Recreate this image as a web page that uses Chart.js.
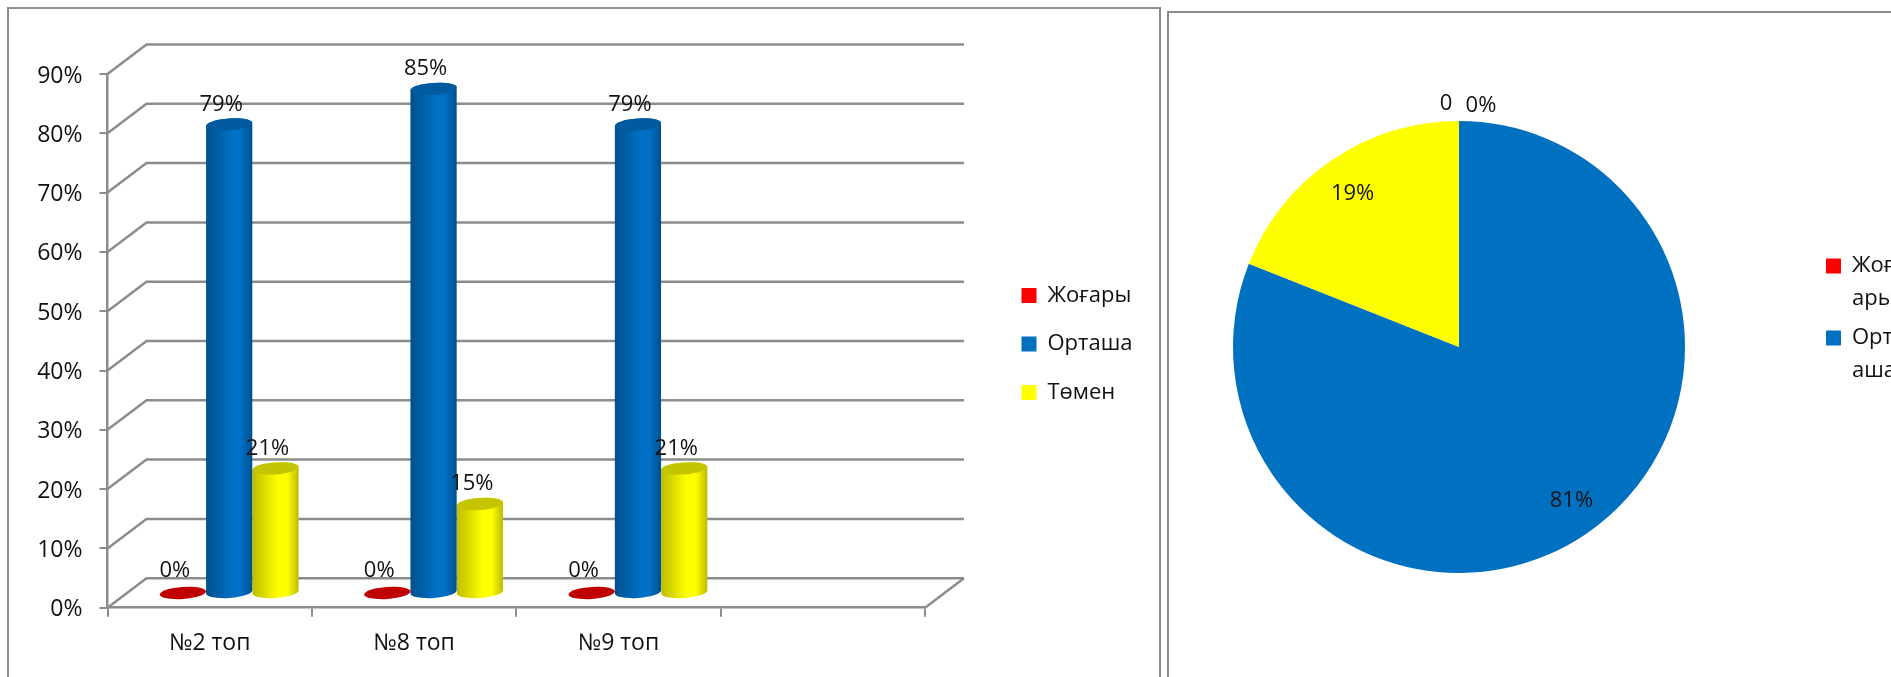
<!DOCTYPE html>
<html>
<head>
<meta charset="utf-8">
<script src="https://cdn.jsdelivr.net/npm/chart.js@4"></script>
<style>
    html, body { margin: 0; padding: 0; background: #fff; overflow: hidden; width: 1891px; height: 677px; }
    .panel { position: absolute; border: 2px solid #8c8c8c; box-sizing: border-box; background: #fff; }
    canvas { position: absolute; top: 0; }
</style>
</head>
<body>
<div class="panel" style="left:7px;top:7px;width:1154px;height:700px"></div>
<div class="panel" style="left:1167px;top:11px;width:800px;height:700px"></div>
<canvas id="Wykres_1" width="1160" height="677" style="left:0"></canvas>
<canvas id="Wykres_2" width="721" height="677" style="left:1170px"></canvas>
<script>
const groups = ['№2 топ', '№8 топ', '№9 топ', ''];
const seriesNames = ['Жоғары', 'Орташа', 'Төмен'];
const highValues = [0, 0, 0];
const midValues = [79, 85, 79];
const lowValues = [21, 15, 21];
const pieLabels = ['Жоғары', 'Орташа', 'Төмен', ''];
const pieValues = [0, 81, 19, 0];
const pieLegendLines = [['Жоғ', 'ары'], ['Орт', 'аша']];

const FONT = '"Open Sans", "Noto Sans", sans-serif';
const GREY = '#8c8c8c';
const DEPTH_X = 39, DEPTH_Y = 29.5; // depth of the 3D floor

Chart.defaults.font.family = FONT;
Chart.defaults.font.size = 22;
Chart.defaults.color = '#111';
Chart.defaults.animation = false;

// colours of each cylinder: edge, middle, cap
const shades = [
    ['#c00000', '#ff0000', '#c00000'],
    ['#00508c', '#0070c6', '#005c9e'],
    ['#bcbc00', '#ffff00', '#c4c400']
];

const wallPlugin = {
    id: 'wall',
    beforeDatasetsDraw(chart) {
        const { ctx, chartArea: a, scales: { y } } = chart;
        ctx.save();
        ctx.strokeStyle = GREY;
        ctx.lineWidth = 2.5;
        y.ticks.forEach(t => {
            const py = y.getPixelForValue(t.value);
            ctx.beginPath();
            ctx.moveTo(a.left, py);
            ctx.lineTo(a.left + DEPTH_X, py - DEPTH_Y);
            ctx.lineTo(a.right + DEPTH_X, py - DEPTH_Y);
            ctx.stroke();
        });
        ctx.beginPath();
        ctx.moveTo(a.right, a.bottom);
        ctx.lineTo(a.right + DEPTH_X, a.bottom - DEPTH_Y);
        ctx.stroke();
        ctx.restore();
    }
};

const cylinderPlugin = {
    id: 'cylinder',
    beforeDatasetDraw(chart, args) {
        const ctx = chart.ctx;
        const [edge, mid, cap] = shades[args.index];
        args.meta.data.forEach(el => {
            const cx = el.x + DEPTH_X / 2, rx = el.width / 2, ry = 6, tilt = -0.07;
            const top = el.y - DEPTH_Y / 2, bottom = el.base - DEPTH_Y / 2;
            ctx.save();
            if (bottom - top > 1) {
                const g = ctx.createLinearGradient(cx - rx, 0, cx + rx, 0);
                g.addColorStop(0, edge);
                g.addColorStop(0.55, mid);
                g.addColorStop(0.75, mid);
                g.addColorStop(1, edge);
                ctx.fillStyle = g;
                ctx.beginPath();
                ctx.ellipse(cx, top, rx, ry, tilt, Math.PI, 0, false);
                ctx.ellipse(cx, bottom, rx, ry, tilt, 0, Math.PI, false);
                ctx.closePath();
                ctx.fill();
            }
            ctx.fillStyle = cap;
            ctx.beginPath();
            ctx.ellipse(cx, top, rx, ry, tilt, 0, Math.PI * 2);
            ctx.fill();
            ctx.restore();
        });
        return false;
    },
    afterDatasetsDraw(chart) {
        const ctx = chart.ctx;
        ctx.save();
        ctx.fillStyle = '#111';
        ctx.textAlign = 'center';
        ctx.textBaseline = 'middle';
        ctx.font = '22px ' + FONT;
        chart.data.datasets.forEach((ds, i) => {
            chart.getDatasetMeta(i).data.forEach((el, j) => {
                const lift = ds.data[j] === 0 ? 22 : 20;
                ctx.fillText(ds.data[j] + '%', el.x + DEPTH_X / 2 - 8, el.y - DEPTH_Y / 2 - lift);
            });
        });
        ctx.restore();
    }
};

const pieLabelPlugin = {
    id: 'pieText',
    afterDatasetsDraw(chart) {
        const ctx = chart.ctx;
        const meta = chart.getDatasetMeta(0);
        // small hand shifts of the two inside labels: x, y
        const shifts = { 1: [7, -1], 2: [-1, 2] };
        ctx.save();
        ctx.fillStyle = '#111';
        ctx.textAlign = 'center';
        ctx.textBaseline = 'middle';
        ctx.font = '22px ' + FONT;
        meta.data.forEach((arc, i) => {
            const v = pieValues[i];
            if (v === 0) {
                // zero slices sit on top of the pie, side by side
                const text = pieLabels[i] ? v + '%' : String(v);
                const dx = pieLabels[i] ? 22 : -13;
                ctx.fillText(text, arc.x + dx, arc.y - arc.outerRadius - (pieLabels[i] ? 15 : 17));
            } else {
                const ang = (arc.startAngle + arc.endAngle) / 2;
                const r = arc.outerRadius * 0.83;
                ctx.fillText(v + '%', arc.x + Math.cos(ang) * r + shifts[i][0], arc.y + Math.sin(ang) * r + shifts[i][1]);
            }
        });
        ctx.restore();
    }
};

// moves a legend to a fixed spot, as the reference has it away from the plot
function legendAt(left, top) {
    return {
        id: 'legendAt',
        afterLayout(chart) {
            const lg = chart.legend;
            lg.left = left;
            lg.right = left + 300;
            lg.top = top;
            lg.bottom = top + 400;
        }
    };
}

document.addEventListener("DOMContentLoaded", function() {
    const ctx = document.getElementById('Wykres_1').getContext('2d');
    new Chart(ctx, {
        type: 'bar',
        plugins: [wallPlugin, cylinderPlugin, legendAt(995, 258)],
        data: {
            labels: groups,
            datasets: [
                { label: seriesNames[0], data: highValues, backgroundColor: '#ff0000' },
                { label: seriesNames[1], data: midValues, backgroundColor: '#0070c0' },
                { label: seriesNames[2], data: lowValues, backgroundColor: '#ffff00' }
            ]
        },
        options: {
            responsive: false,
            layout: { padding: { left: 0, right: 235, top: 74, bottom: 0 } },
            datasets: { bar: { categoryPercentage: 0.68, barPercentage: 1 } },
            scales: {
                x: {
                    afterFit: s => { s.height = 69.3; },
                    border: { color: GREY, width: 2.5 },
                    grid: { color: GREY, lineWidth: 2, drawOnChartArea: false, tickLength: 9 },
                    ticks: { padding: 13, maxRotation: 0, font: { size: 23 } }
                },
                y: {
                    min: 0,
                    max: 90,
                    afterFit: s => { s.width = 107.5; },
                    border: { color: GREY, width: 2.5 },
                    grid: { color: GREY, lineWidth: 2, drawOnChartArea: false, tickLength: 8 },
                    ticks: { stepSize: 10, padding: 17, labelOffset: 2, callback: v => v + '%', font: { size: 23 } }
                }
            },
            plugins: {
                title: { display: false },
                tooltip: { enabled: false },
                legend: {
                    position: 'chartArea',
                    align: 'start',
                    labels: { boxWidth: 15, boxHeight: 15, padding: 26.5, font: { size: 22 } }
                }
            }
        }
    });

    const ctx2 = document.getElementById('Wykres_2').getContext('2d');
    new Chart(ctx2, {
        type: 'pie',
        plugins: [pieLabelPlugin, legendAt(650, 249)],
        data: {
            labels: pieLabels,
            datasets: [{
                data: pieValues,
                backgroundColor: ['#ff0000', '#0070c0', '#ffff00', '#7f7f7f'],
                borderWidth: 0
            }]
        },
        options: {
            responsive: false,
            layout: { padding: { left: 63, right: 206, top: 121, bottom: 104 } },
            plugins: {
                tooltip: { enabled: false },
                legend: {
                    position: 'chartArea',
                    align: 'start',
                    labels: {
                        boxWidth: 15,
                        boxHeight: 15,
                        padding: 6,
                        font: { size: 22, lineHeight: 1.5 },
                        generateLabels(chart) {
                            const items = Chart.overrides.pie.plugins.legend.labels.generateLabels(chart);
                            return items.slice(0, pieLegendLines.length).map((it, i) => {
                                it.text = pieLegendLines[i];
                                return it;
                            });
                        }
                    }
                }
            }
        }
    });
});
</script>
</body>
</html>
